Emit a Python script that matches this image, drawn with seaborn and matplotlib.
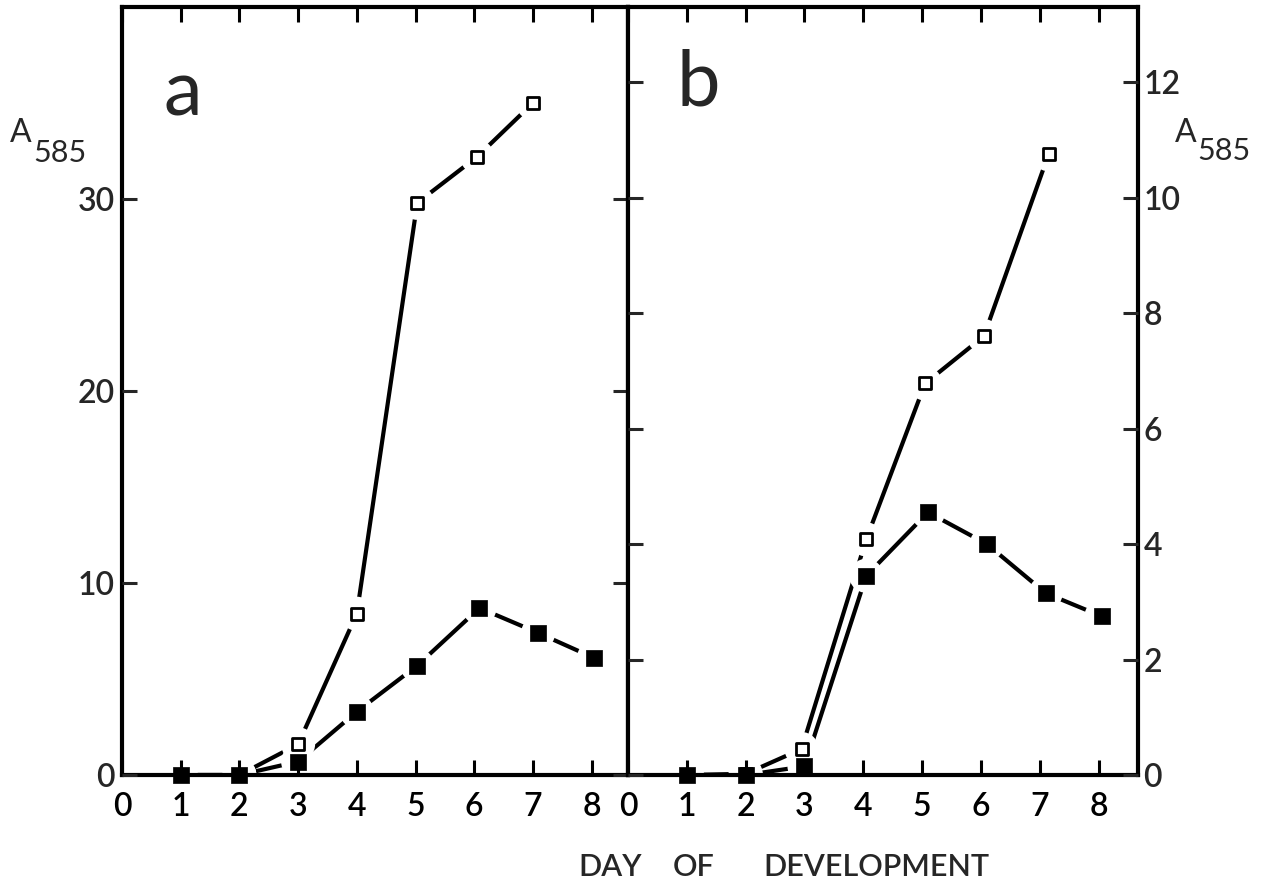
import matplotlib
matplotlib.use("Agg")
import matplotlib.pyplot as plt
import seaborn as sns

# ---- data: absorbance at 585 nm by day of development ----
# panel a
days_a_open = [1, 2, 3, 4, 5.03, 6.05, 7.0]
a585_a_open = [0, 0, 1.6, 8.4, 29.8, 32.2, 35.0]
days_a_fill = [1, 2, 3, 4, 5.03, 6.09, 7.09, 8.04]
a585_a_fill = [0, 0, 0.7, 3.3, 5.7, 8.7, 7.4, 6.1]

# panel b
days_b_open = [1, 2, 2.95, 4.05, 5.05, 6.05, 7.15]
a585_b_open = [0, 0.02, 0.45, 4.08, 6.78, 7.6, 10.75]
days_b_fill = [1, 2, 3, 4.05, 5.1, 6.1, 7.1, 8.05]
a585_b_fill = [0, 0, 0.15, 3.45, 4.55, 4.0, 3.15, 2.75]

x_ticks = list(range(0, 9))
a_yticks = [0, 10, 20, 30]
b_yticks = [0, 2, 4, 6, 8, 10, 12]

sns.set_theme(style="ticks")
FONT = ["Lato", "DejaVu Sans"]
plt.rcParams["font.family"] = FONT
WEIGHT = "semibold"

W, H = 1274, 888
fig = plt.figure(figsize=(W / 100, H / 100), dpi=100)
fig.patch.set_facecolor("white")


def fx(px):
    return px / W


def fy(py):
    return 1 - py / H


bottom = fy(775)
top = fy(7)
ax_a = fig.add_axes([fx(122), bottom, fx(628) - fx(122), top - bottom])
ax_b = fig.add_axes([fx(628), bottom, fx(1138) - fx(628), top - bottom])

LW = 3.0


def draw_line(ax, xs, ys):
    sns.lineplot(x=xs, y=ys, ax=ax, color="black", lw=LW, sort=False,
                 estimator=None, legend=False, zorder=1.2,
                 solid_capstyle="round")


def draw_halo(ax, xs, ys):
    # white disc behind each marker so the connecting line stops short of it
    ax.scatter(xs, ys, marker="o", s=600, facecolors="white",
               edgecolors="none", zorder=1.6, clip_on=False)


def draw_markers(ax, xs, ys, filled):
    if filled:
        sns.scatterplot(x=xs, y=ys, ax=ax, marker="s", s=118, color="black",
                        edgecolor="black", linewidth=0.5, legend=False,
                        zorder=3.2, clip_on=False)
    else:
        sns.scatterplot(x=xs, y=ys, ax=ax, marker="s", s=66, color="white",
                        edgecolor="black", linewidth=2.0, legend=False,
                        zorder=3.1, clip_on=False)


for ax, xo, yo, xf, yf in [
    (ax_a, days_a_open, a585_a_open, days_a_fill, a585_a_fill),
    (ax_b, days_b_open, a585_b_open, days_b_fill, a585_b_fill),
]:
    draw_line(ax, xo, yo)
    draw_line(ax, xf, yf)
    draw_halo(ax, xo, yo)
    draw_halo(ax, xf, yf)
    draw_markers(ax, xo, yo, False)
    draw_markers(ax, xf, yf, True)

# ---- axes styling ----
for ax in (ax_a, ax_b):
    ax.set_facecolor("white")
    ax.set_axisbelow(False)
    for sp in ax.spines.values():
        sp.set_visible(True)
        sp.set_linewidth(3.0)
        sp.set_color("black")
        sp.set_zorder(2.5)
    ax.set_xticks(x_ticks)
    ax.set_xticklabels([str(t) for t in x_ticks])
    ax.tick_params(axis="x", direction="in", length=11, width=2.2,
                   top=True, bottom=True, labelsize=23, pad=12, colors="black")
    ax.set_xlabel("")
    ax.set_ylabel("")
    ax.grid(False)

ax_a.set_xlim(0.0, 8.62)
ax_b.set_xlim(0.0, 8.67)
ax_a.set_ylim(0, 40)
ax_b.set_ylim(0, 13.3)

ax_a.set_yticks(a_yticks)
ax_a.set_yticklabels([str(t) for t in a_yticks])
ax_a.tick_params(axis="y", direction="in", length=11, width=2.2,
                 left=True, right=True, labelleft=True, labelright=False,
                 labelsize=23, pad=5)

ax_b.set_yticks(b_yticks)
ax_b.set_yticklabels([str(t) for t in b_yticks])
ax_b.tick_params(axis="y", direction="in", length=11, width=2.2,
                 left=True, right=True, labelleft=False, labelright=True,
                 labelsize=23, pad=4)

for lab in ax_a.get_xticklabels() + ax_b.get_xticklabels() + \
        ax_a.get_yticklabels() + ax_b.get_yticklabels():
    lab.set_family(FONT)
    lab.set_fontweight(WEIGHT)

# ---- panel letters ----
fig.text(fx(163), fy(115), "a", fontsize=56, ha="left", va="baseline",
         family=FONT)
fig.text(fx(676), fy(105), "b", fontsize=56, ha="left", va="baseline",
         family=FONT)

# ---- axis titles ----
fig.text(fx(10), fy(142), "A", fontsize=23, ha="left", va="baseline",
         family=FONT)
fig.text(fx(33), fy(162), "585", fontsize=22, ha="left", va="baseline",
         family=FONT)
fig.text(fx(1175), fy(142), "A", fontsize=23, ha="left", va="baseline",
         family=FONT)
fig.text(fx(1197), fy(160), "585", fontsize=22, ha="left", va="baseline",
         family=FONT)

TITLE_SIZE = 22
fig.text(fx(578), fy(876), "DAY", fontsize=TITLE_SIZE, ha="left", va="baseline",
         family=FONT, fontweight=WEIGHT)
fig.text(fx(673), fy(876), "OF", fontsize=TITLE_SIZE, ha="left", va="baseline",
         family=FONT, fontweight=WEIGHT)
fig.text(fx(763), fy(876), "DEVELOPMENT", fontsize=TITLE_SIZE, ha="left",
         va="baseline", family=FONT, fontweight=WEIGHT)

fig.savefig("out.png", dpi=100, facecolor="white")
